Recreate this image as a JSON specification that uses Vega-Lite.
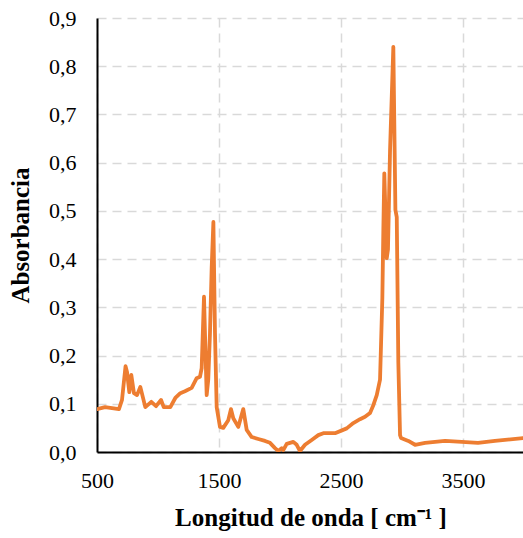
{
  "$schema": "https://vega.github.io/schema/vega-lite/v6.json",
  "width": 427,
  "height": 434,
  "autosize": {"type": "none"},
  "padding": {"left": 97, "top": 18, "right": 0, "bottom": 86},
  "background": "white",
  "data": {"values": [
    {"x": 500, "y": 0.089}, {"x": 566, "y": 0.093}, {"x": 623, "y": 0.091}, {"x": 680, "y": 0.089},
    {"x": 705, "y": 0.108}, {"x": 734, "y": 0.178}, {"x": 746, "y": 0.166}, {"x": 765, "y": 0.124},
    {"x": 781, "y": 0.16}, {"x": 803, "y": 0.122}, {"x": 828, "y": 0.118}, {"x": 855, "y": 0.135},
    {"x": 896, "y": 0.093}, {"x": 945, "y": 0.104}, {"x": 984, "y": 0.095}, {"x": 1025, "y": 0.108},
    {"x": 1047, "y": 0.093}, {"x": 1101, "y": 0.093}, {"x": 1142, "y": 0.112}, {"x": 1183, "y": 0.122},
    {"x": 1221, "y": 0.126}, {"x": 1276, "y": 0.133}, {"x": 1317, "y": 0.153}, {"x": 1344, "y": 0.156},
    {"x": 1358, "y": 0.174}, {"x": 1377, "y": 0.322}, {"x": 1389, "y": 0.21}, {"x": 1399, "y": 0.118},
    {"x": 1412, "y": 0.15}, {"x": 1426, "y": 0.246}, {"x": 1440, "y": 0.382}, {"x": 1454, "y": 0.477},
    {"x": 1467, "y": 0.247}, {"x": 1481, "y": 0.093}, {"x": 1508, "y": 0.052}, {"x": 1535, "y": 0.05},
    {"x": 1576, "y": 0.066}, {"x": 1598, "y": 0.089}, {"x": 1617, "y": 0.07}, {"x": 1658, "y": 0.052},
    {"x": 1699, "y": 0.089}, {"x": 1727, "y": 0.046}, {"x": 1768, "y": 0.031}, {"x": 1822, "y": 0.027},
    {"x": 1877, "y": 0.023}, {"x": 1918, "y": 0.019}, {"x": 1959, "y": 0.008}, {"x": 1986, "y": 0.002},
    {"x": 2014, "y": 0.008}, {"x": 2027, "y": 0.004}, {"x": 2055, "y": 0.017}, {"x": 2109, "y": 0.021},
    {"x": 2137, "y": 0.015}, {"x": 2164, "y": 0.002}, {"x": 2205, "y": 0.015}, {"x": 2260, "y": 0.025},
    {"x": 2314, "y": 0.035}, {"x": 2355, "y": 0.039}, {"x": 2451, "y": 0.039}, {"x": 2547, "y": 0.049},
    {"x": 2601, "y": 0.06}, {"x": 2656, "y": 0.068}, {"x": 2697, "y": 0.073}, {"x": 2738, "y": 0.081},
    {"x": 2765, "y": 0.097}, {"x": 2793, "y": 0.118}, {"x": 2820, "y": 0.15}, {"x": 2839, "y": 0.32},
    {"x": 2847, "y": 0.46}, {"x": 2855, "y": 0.578}, {"x": 2875, "y": 0.402}, {"x": 2885, "y": 0.42},
    {"x": 2902, "y": 0.626}, {"x": 2929, "y": 0.84}, {"x": 2946, "y": 0.502}, {"x": 2957, "y": 0.487},
    {"x": 2970, "y": 0.185}, {"x": 2984, "y": 0.035}, {"x": 2992, "y": 0.029}, {"x": 3052, "y": 0.023},
    {"x": 3107, "y": 0.015}, {"x": 3189, "y": 0.019}, {"x": 3353, "y": 0.023}, {"x": 3490, "y": 0.021},
    {"x": 3623, "y": 0.019}, {"x": 3762, "y": 0.023}, {"x": 3992, "y": 0.029}
  ]},
  "mark": {"type": "line", "color": "#ED7D31", "strokeWidth": 3.8, "strokeJoin": "round", "strokeCap": "round", "clip": true},
  "encoding": {
    "x": {
      "field": "x", "type": "quantitative",
      "scale": {"domain": [500, 4000], "nice": false, "zero": false},
      "axis": {
        "title": "Longitud de onda [ cm⁻¹ ]",
        "values": [500, 1500, 2500, 3500],
        "format": "d",
        "labelFlush": false,
        "titlePadding": 14
      }
    },
    "y": {
      "field": "y", "type": "quantitative",
      "scale": {"domain": [0, 0.9], "nice": false},
      "axis": {
        "title": "Absorbancia",
        "values": [0, 0.1, 0.2, 0.3, 0.4, 0.5, 0.6, 0.7, 0.8, 0.9],
        "labelExpr": "replace(format(datum.value, '.1f'), '.', ',')",
        "labelFlush": false,
        "labelPadding": 21,
        "titlePadding": 15
      }
    }
  },
  "config": {
    "font": "Times New Roman",
    "view": {"stroke": null},
    "axis": {
      "labelFont": "Times New Roman",
      "labelFontSize": 22,
      "labelFontWeight": "normal",
      "labelColor": "#000000",
      "labelPadding": 18,
      "ticks": false,
      "domainColor": "#000000",
      "domainWidth": 2,
      "gridColor": "#d9d9d9",
      "gridDash": [9, 6],
      "gridWidth": 1.5,
      "titleFont": "Times New Roman",
      "titleFontSize": 25,
      "titleFontWeight": "bold",
      "titleColor": "#000000",
      "labelOverlap": false
    }
  }
}
